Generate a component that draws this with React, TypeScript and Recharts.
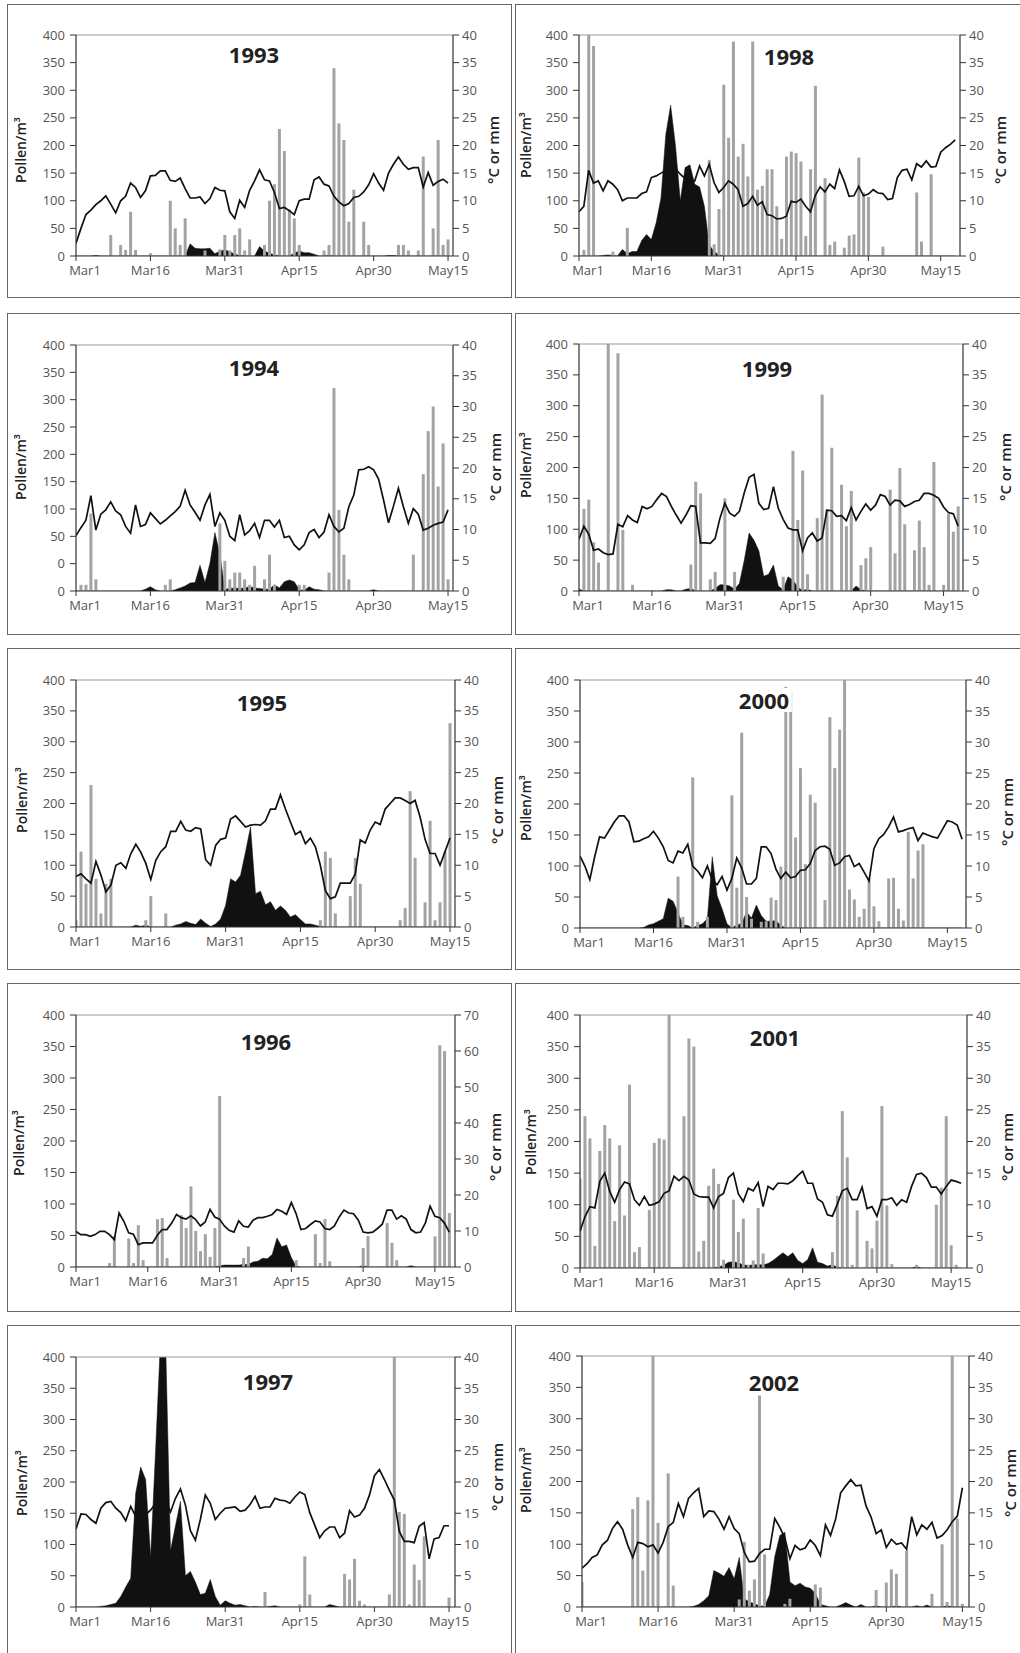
import React from 'react';
import { ComposedChart, Area, Bar, Line, XAxis, YAxis, ReferenceLine } from 'recharts';

// x axis: day index from March 1
const dayTicks = [0, 15, 30, 45, 60, 75];
const dayLabels = ['Mar1', 'Mar16', 'Mar31', 'Apr15', 'Apr30', 'May15'];

const pollenTicks = [0, 50, 100, 150, 200, 250, 300, 350, 400];
// the 1994 panel has a mislabelled left axis (ten labels)
const pollenTicks1994 = [0, 1, 2, 3, 4, 5, 6, 7, 8, 9].map((i) => (i * 400) / 9);
const pollenLabels1994 = ['0', '0', '50', '100', '150', '200', '250', '300', '350', '400'];
const tempTicks40 = [0, 5, 10, 15, 20, 25, 30, 35, 40];
const tempTicks70 = [0, 10, 20, 30, 40, 50, 60, 70];

// daily temperature (°C)
const temp1993 = [2.3, 5, 7.5, 8.3, 9.3, 10, 10.9, 9.4, 7.8, 10, 10.8, 13.2, 12.4, 10.6, 11.8, 14.5, 14.6, 15.4, 15.4, 13.7, 13.5, 14.1, 12.2, 10.5, 10.5, 10.7, 9.5, 10.4, 12.4, 11.9, 11.8, 8, 6.8, 10.1, 8.8, 11.9, 13.6, 15.6, 13.8, 13.6, 11.5, 8.6, 8.8, 8.2, 7.5, 10, 10.3, 10.3, 13.8, 14.3, 13, 12.7, 10.8, 9.8, 9.1, 9.5, 10.6, 10.8, 11.6, 12.9, 14.9, 13.2, 11.9, 15, 16.6, 17.9, 16.6, 15.7, 16, 16, 12.5, 15.1, 12.8, 13.5, 13.9, 13.2];
const temp1998 = [8, 9, 15.5, 13.2, 13.6, 11.8, 13.6, 13, 12, 10, 10.5, 10.5, 10.5, 11.3, 11.6, 14.2, 14.5, 15, 15.5, 16, 15.8, 14.8, 14, 13.5, 13.6, 16.3, 14.5, 16.6, 13.3, 11.5, 12.4, 13.6, 13, 12, 9, 9.5, 10.8, 9.2, 9.8, 7.5, 7.3, 6.7, 6.8, 7.2, 9.9, 9.7, 10.3, 9, 8, 11, 12.5, 11.6, 13, 12.2, 15.6, 13.5, 10.8, 10.9, 12.6, 10.9, 11.2, 12, 11.4, 11.3, 10.2, 10.4, 14.2, 15.5, 15.7, 13.8, 16.7, 16.1, 17.2, 16.1, 16.2, 18.8, 19.6, 20.2, 21];
const temp1994 = [9, 10.3, 11.5, 15.5, 9.9, 12.5, 13.2, 14.5, 13, 12.4, 10.5, 9.4, 14, 10.5, 10.8, 12.7, 11.8, 10.9, 11.5, 12.2, 12.9, 13.8, 16.4, 14, 12.8, 11.5, 14, 15.7, 10.5, 12.7, 11.5, 8.9, 8.2, 12.4, 9.1, 9.8, 11, 8.7, 11.5, 11.5, 10.4, 11.5, 8.7, 8.9, 7.5, 6.7, 7.5, 9.5, 10, 8.7, 9.6, 12.4, 10.5, 9.6, 10.2, 13.7, 15.6, 19.7, 19.8, 20.2, 19.7, 18.2, 14.8, 11.1, 13.8, 16.7, 13.7, 11, 13.4, 12.5, 9.9, 10.2, 10.7, 11, 11.2, 13.2];
const temp1999 = [8.4, 10.5, 9.2, 6.6, 6.8, 6.2, 5.9, 6, 10.8, 10.4, 12.2, 11.5, 11.1, 13.7, 13.3, 13.7, 14.8, 15.8, 15.3, 13.7, 12.3, 11, 12.3, 13.8, 13.7, 7.8, 7.8, 7.7, 8.5, 11.8, 14.2, 12.6, 12.1, 12.9, 15.9, 18.4, 18.9, 14.2, 13.2, 13.4, 16.9, 13.4, 11.6, 10.2, 9.9, 9.9, 6.5, 8.6, 9.4, 8.1, 8.6, 13.1, 13, 12.1, 12.2, 11.4, 13.5, 11.5, 12.9, 14.1, 13.1, 13.9, 15.6, 15.3, 13.9, 14.7, 14.6, 13.7, 14, 14.5, 14.7, 15.8, 15.8, 15.5, 15, 13.6, 12.7, 12.5, 10.5];
const temp1995 = [8.2, 8.6, 7.8, 7.1, 10.6, 8.4, 5.7, 6.8, 10, 10.4, 9.5, 11.9, 13.4, 12.1, 10.3, 7.7, 10.8, 12.2, 13, 15.5, 15.5, 17.1, 15.7, 15.5, 16.1, 15.9, 10.9, 10, 13.2, 14.2, 14.4, 17.5, 18, 17.1, 16.2, 16.5, 16.6, 16.5, 17.2, 19.1, 19.1, 21.4, 19.1, 17, 15, 15.5, 13.5, 14.4, 13, 10, 5.9, 4.6, 4.9, 7.1, 7.1, 7.1, 8.6, 14.1, 13.6, 15.7, 17, 16.6, 19.1, 20, 20.9, 20.9, 20.5, 20, 20.5, 17.8, 14.2, 11.9, 11.9, 10, 12.2, 14.4];
const temp2000 = [11.6, 10, 7.8, 11.5, 14.7, 14.5, 15.8, 17.1, 18.1, 18.1, 17.1, 13.9, 14, 14.4, 14.7, 15.6, 14.5, 13.1, 10.9, 10.5, 12.4, 12.1, 13.5, 10, 9.2, 8.1, 10, 7.7, 7, 8.3, 6.1, 8, 11.3, 9.7, 7.1, 7.1, 8, 13.1, 13.1, 12, 9.5, 8, 9, 8.1, 8.3, 9.3, 9.4, 10.4, 12.5, 13.1, 13.2, 12.7, 10.1, 10.5, 11.5, 11.7, 9.9, 10.4, 9, 7.6, 12.8, 14.4, 15.1, 16.3, 17.9, 15.5, 15.7, 16, 16.2, 14.1, 15.3, 15, 14.7, 14.5, 15.9, 17.3, 17.1, 16.6, 14.3];
const temp1996 = [9.9, 9, 9, 8.5, 9, 9.9, 9.9, 9, 7.6, 15, 12.7, 9.5, 9.1, 6.2, 6.7, 6.7, 6.7, 8.8, 10.4, 10.4, 12.2, 14.6, 13.7, 13.3, 14.2, 13.2, 11.4, 12.5, 16, 13.9, 13.3, 11.4, 10.2, 9.7, 12.8, 11.3, 11.1, 13, 13.7, 13.7, 14.1, 14.6, 16, 15.5, 14.6, 17.9, 14.8, 10.4, 10.7, 11.8, 12.8, 12.5, 10.7, 10.4, 11.4, 13.9, 15.8, 15, 14.8, 13, 9.7, 9.5, 9.7, 10.7, 11.9, 15.8, 15.8, 13.3, 14.2, 13.3, 10.4, 9.5, 9.7, 12.2, 16.9, 14.1, 13.7, 12.2, 9.7];
const temp2001 = [5.8, 8.1, 9.7, 9.5, 13.7, 15, 12.1, 10.4, 12.4, 13.6, 13.3, 10.8, 9.9, 11.3, 9.9, 10.1, 10.5, 11.8, 12.2, 14.5, 13.8, 14.5, 13.9, 11.7, 11.3, 11.2, 11.2, 9.5, 11.3, 11.8, 14.3, 15, 11.7, 10.5, 12.6, 12.2, 13.5, 9.7, 12.9, 12.4, 13.4, 13.4, 13.3, 13.8, 14.6, 15.3, 13.4, 13.4, 10.9, 10.4, 8.4, 8.2, 10.1, 12.2, 12.6, 10.8, 10.8, 12.8, 9.4, 9.7, 8.2, 10.8, 10.8, 11.1, 9.9, 10.8, 10.4, 12.9, 14.8, 15, 14.3, 12.8, 12.8, 11.7, 12.9, 13.9, 13.7, 13.4];
const temp1997 = [12.5, 14.9, 14.8, 14, 13.4, 15.8, 16.7, 16.9, 15.8, 15.1, 13.8, 16.1, 14.5, 15.5, 14.8, 15.5, 16.6, 17.5, 17.1, 15.2, 17.4, 18.9, 16.3, 12.2, 10.7, 14, 17.9, 16.6, 14, 15, 15.8, 15.9, 16, 15.3, 15.5, 16.4, 17.7, 15.8, 16, 16, 17.4, 17.1, 17, 16.6, 17.6, 18.4, 18, 15.1, 13.1, 11.1, 12.2, 12.8, 12.8, 11.1, 11.8, 15.4, 14.4, 14.7, 15.8, 17.9, 21, 22, 20.4, 18.7, 17.1, 12.1, 10.5, 10.5, 10.3, 12.9, 13.5, 7.7, 10.9, 11.1, 13, 13];
const temp2002 = [6.2, 6.9, 7.9, 8.3, 9.9, 10.6, 12.5, 13.6, 12.4, 9.9, 7.9, 10.3, 10.1, 9.6, 9.9, 8.6, 10.3, 12.8, 13.5, 16.5, 14.4, 17.3, 18.2, 18.9, 14.4, 15.3, 15.2, 14, 12.4, 14.4, 12.5, 11.7, 8.7, 7.2, 7.3, 8.5, 9.2, 9.2, 14.1, 12.7, 11, 7.7, 9.8, 9.1, 9.4, 10.7, 9.8, 8.2, 13.1, 11.4, 14, 18.2, 19.3, 20.3, 19.3, 19.4, 16.1, 14.3, 11.7, 12.3, 9.5, 10.8, 10, 10.2, 9.2, 14.4, 11.5, 13.1, 12.4, 13.5, 11, 11.4, 12.3, 13.6, 14.5, 19];

// rainfall (mm), [day, value]
const rain1993 = [[7, 3.8], [9, 2], [10, 1.1], [11, 8], [12, 1.1], [15, 0.5], [19, 10], [20, 5], [21, 2], [22, 6.8], [26, 1], [29, 1.2], [30, 3.8], [31, 1], [32, 3.8], [33, 5], [34, 1], [35, 3], [38, 2], [39, 10], [40, 13], [41, 23], [42, 19], [43, 8.4], [44, 6.8], [45, 2], [50, 1], [51, 2], [52, 34], [53, 24], [54, 21], [55, 6.2], [56, 12], [58, 6.2], [59, 2], [65, 2], [66, 2], [67, 1], [69, 1], [70, 18], [72, 5], [73, 21], [74, 2], [75, 3]];
const rain1998 = [[1, 1.1], [2, 41], [3, 38], [7, 0.8], [10, 5.1], [27, 17.4], [28, 2.1], [29, 8.5], [30, 31], [31, 21.4], [32, 38.8], [33, 18], [34, 20.3], [35, 14.4], [36, 38.8], [37, 12], [38, 12.7], [39, 15.7], [40, 15.7], [41, 9], [42, 3.1], [43, 18], [44, 18.9], [45, 18.6], [46, 17.1], [47, 3.6], [48, 15.7], [49, 30.8], [51, 14.1], [52, 2], [53, 2.6], [55, 1.5], [56, 3.7], [57, 3.9], [58, 17.8], [59, 11.5], [60, 10.7], [63, 1.7], [70, 11.5], [71, 2.6], [73, 14.8]];
const rain1994 = [[1, 1], [2, 1], [3, 12.6], [4, 1.9], [18, 1], [19, 1.9], [29, 11], [30, 4.9], [31, 1.9], [32, 3], [33, 3], [34, 1.9], [35, 1], [36, 4.1], [38, 1.9], [39, 5.9], [40, 1], [45, 1], [46, 1], [51, 3], [52, 33], [53, 13.2], [54, 5.9], [55, 1.9], [68, 5.9], [70, 19], [71, 26], [72, 30], [73, 17], [74, 24], [75, 1.9]];
const rain1999 = [[1, 13.3], [2, 14.8], [3, 7.9], [4, 4.6], [6, 41], [8, 38.5], [9, 9.9], [11, 1], [23, 4.3], [24, 17.7], [25, 15.8], [27, 1.9], [28, 3.1], [30, 15], [32, 3.1], [42, 2.3], [44, 22.7], [45, 11.5], [46, 19.5], [47, 2.7], [49, 11.8], [50, 31.8], [51, 13.2], [52, 23.2], [54, 17.2], [55, 10.5], [56, 16.2], [58, 4.2], [59, 5.3], [60, 7.1], [64, 16.4], [65, 6.1], [66, 19.9], [67, 10.8], [69, 6.6], [70, 11.4], [71, 7.1], [72, 1], [73, 20.9], [75, 1], [76, 12.5], [77, 9.6], [78, 13.7]];
const rain1995 = [[0, 1.1], [1, 12.2], [2, 7], [3, 23], [4, 7.8], [5, 2.2], [6, 7], [7, 7.8], [14, 1.1], [15, 5], [18, 2.2], [49, 1.1], [50, 12.2], [51, 11.2], [52, 2.2], [55, 5], [56, 11.2], [57, 7], [65, 1.1], [66, 3.1], [67, 22], [68, 11.2], [70, 4], [71, 17.2], [72, 1.1], [73, 4], [74, 12.2], [75, 33]];
const rain2000 = [[20, 8.3], [21, 1.8], [23, 24.3], [24, 1], [26, 1.8], [31, 21.4], [32, 6.5], [33, 31.5], [34, 5], [35, 1.5], [37, 1], [38, 1.1], [39, 4.9], [40, 4.5], [41, 9.9], [42, 38.9], [43, 38.2], [44, 14.6], [45, 25.8], [46, 10.3], [47, 21.5], [48, 20.2], [50, 4.5], [51, 34], [52, 25.8], [53, 32], [54, 40], [55, 6.2], [56, 4.6], [57, 1.8], [58, 3.1], [59, 8], [60, 3.5], [61, 1.1], [63, 8], [64, 8.1], [65, 3.1], [66, 1.2], [67, 15.5], [68, 8], [69, 12.5], [70, 13.5]];
const rain1996 = [[7, 1.1], [8, 8.5], [11, 7.9], [12, 1.1], [13, 11.6], [14, 1.9], [17, 13.3], [18, 13.6], [19, 2.5], [22, 14.4], [23, 10.8], [24, 22.4], [25, 10], [26, 4.4], [27, 9.1], [28, 2.8], [29, 10.8], [30, 47.5], [35, 2.5], [36, 5.7], [46, 1.9], [50, 9.1], [51, 1.1], [52, 13.3], [53, 1.6], [60, 5.3], [61, 8.6], [65, 12.2], [66, 6.7], [67, 1.9], [75, 8.5], [76, 61.6], [77, 60], [78, 15]];
const rain2001 = [[0, 14.1], [1, 24], [2, 20.5], [3, 3.5], [4, 18.5], [5, 22.6], [6, 20.5], [7, 7.4], [8, 19.4], [9, 8.3], [10, 29], [11, 2.5], [12, 3.3], [14, 9.2], [15, 19.8], [16, 20.5], [17, 20.3], [18, 40.8], [21, 24], [22, 36.3], [23, 35], [24, 2.6], [25, 4.3], [26, 13], [27, 15.7], [28, 13.3], [29, 1.3], [31, 10.8], [32, 5.7], [33, 7.8], [34, 0.5], [35, 1.2], [36, 9.5], [37, 2.3], [51, 2.5], [52, 11.4], [53, 24.8], [54, 17.5], [55, 0.5], [56, 9.1], [58, 4.3], [59, 3.1], [60, 7.5], [61, 25.6], [62, 9.9], [63, 0.6], [68, 0.5], [72, 10], [73, 12.7], [74, 24], [75, 3.6], [76, 0.5]];
const rain1997 = [[38, 2.4], [45, 0.4], [46, 8.1], [47, 2], [54, 5.3], [55, 4.4], [56, 7.7], [57, 1], [58, 0.4], [63, 2], [64, 42], [65, 15.2], [66, 14.9], [67, 0.4], [68, 6.8], [69, 4.3], [70, 11.3], [75, 1.5]];
const rain2002 = [[0, 4], [10, 15.6], [11, 17.5], [12, 5.8], [13, 17], [14, 40], [15, 13.4], [17, 21.3], [18, 3.4], [31, 1.2], [32, 10.4], [33, 2.6], [34, 4.4], [35, 33.7], [36, 8.4], [40, 0.5], [41, 1.3], [46, 3.6], [47, 3.1], [58, 2.7], [60, 3.9], [61, 6], [62, 5.3], [64, 9], [69, 2.1], [71, 10], [72, 0.8], [73, 40], [74, 14.1], [75, 0.5]];

// pollen (grains/m³), [day, value]
const pollen1993 = [[4, 1], [23, 22], [24, 14], [25, 13], [26, 13], [27, 14], [28, 4], [29, 9], [30, 11], [31, 8], [32, 3], [33, 1], [37, 17], [38, 9], [39, 5], [40, 2], [44, 5], [45, 9], [46, 6], [47, 6], [48, 3], [51, 1], [63, 1], [64, 1]];
const pollen1998 = [[5, 1], [6, 2], [7, 1], [9, 12], [10, 4], [11, 8], [12, 8], [13, 28], [14, 39], [15, 30], [16, 60], [17, 105], [18, 220], [19, 273], [20, 200], [21, 100], [22, 160], [23, 165], [24, 130], [25, 125], [26, 90], [27, 20], [28, 8], [29, 2]];
const pollen1994 = [[14, 3], [15, 7], [16, 2], [20, 2], [21, 5], [22, 8], [23, 13], [24, 14], [25, 42], [26, 14], [27, 45], [28, 95], [29, 60], [30, 3], [31, 4], [32, 5], [33, 4], [34, 5], [35, 7], [36, 5], [37, 4], [38, 3], [39, 3], [40, 10], [41, 5], [42, 15], [43, 18], [44, 15], [45, 2], [46, 1], [47, 7], [48, 3], [49, 2], [60, 2]];
const pollen1999 = [[0, 3], [18, 2], [19, 2], [22, 3], [23, 4], [28, 4], [29, 10], [30, 10], [31, 8], [32, 3], [33, 12], [34, 50], [35, 94], [36, 82], [37, 65], [38, 24], [39, 27], [40, 42], [41, 8], [42, 2], [43, 23], [44, 18], [45, 6], [46, 1], [47, 3], [57, 8], [58, 2]];
const pollen1995 = [[12, 3], [13, 1], [14, 3], [20, 3], [21, 5], [22, 9], [23, 6], [24, 4], [25, 13], [26, 6], [27, 1], [28, 5], [29, 13], [30, 35], [31, 78], [32, 73], [33, 84], [34, 122], [35, 162], [36, 54], [37, 58], [38, 36], [39, 41], [40, 27], [41, 34], [42, 27], [43, 16], [44, 20], [45, 12], [46, 5], [47, 5], [48, 3], [49, 1]];
const pollen2000 = [[13, 1], [14, 5], [15, 7], [16, 11], [17, 15], [18, 48], [19, 43], [20, 25], [21, 5], [22, 4], [24, 4], [25, 7], [26, 15], [27, 115], [28, 52], [29, 31], [30, 7], [32, 5], [33, 7], [34, 26], [35, 16], [36, 37], [37, 20], [38, 11], [39, 11], [40, 12], [41, 4]];
const pollen1996 = [[30, 2], [31, 3], [32, 3], [33, 3], [34, 3], [35, 4], [36, 4], [37, 8], [38, 9], [39, 14], [40, 13], [41, 20], [42, 46], [43, 32], [44, 35], [45, 15], [46, 1], [60, 2], [70, 2]];
const pollen2001 = [[28, 2], [29, 4], [30, 9], [31, 10], [32, 8], [33, 5], [34, 4], [35, 5], [36, 5], [37, 5], [38, 7], [39, 12], [40, 18], [41, 24], [42, 18], [43, 24], [44, 12], [45, 7], [46, 13], [47, 32], [48, 9], [49, 7], [50, 3], [51, 5], [52, 1], [68, 2]];
const pollen1997 = [[5, 1], [6, 2], [7, 4], [8, 6], [9, 17], [10, 32], [11, 46], [12, 182], [13, 224], [14, 204], [15, 80], [16, 250], [17, 430], [18, 430], [19, 90], [20, 130], [21, 169], [22, 50], [23, 57], [24, 40], [25, 20], [26, 22], [27, 44], [28, 17], [29, 3], [30, 10], [31, 6], [32, 3], [33, 4], [34, 2], [36, 1], [39, 1], [40, 2], [51, 4], [52, 2]];
const pollen2002 = [[22, 1], [23, 4], [24, 10], [25, 18], [26, 58], [27, 54], [28, 49], [29, 63], [30, 45], [31, 79], [32, 13], [33, 8], [34, 5], [35, 2], [36, 1], [37, 20], [38, 80], [39, 114], [40, 119], [41, 40], [42, 34], [43, 38], [44, 32], [45, 30], [46, 22], [47, 4], [48, 2], [51, 3], [52, 7], [53, 3], [55, 4], [58, 2], [62, 2], [66, 2], [68, 3], [72, 2]];

const buildRows = (temp: number[], pollen: number[][], rain: number[][]) => {
  const rows: any[] = temp.map((t, d) => ({ d, t, p: 0, r: null }));
  pollen.forEach(([d, v]) => { if (rows[d]) rows[d].p = v; });
  rain.forEach(([d, v]) => { if (rows[d]) rows[d].r = v; });
  return rows;
};

// layout: plot = [left, top, right, bottom] in page px
const panels = [
  { year: '1993', temp: temp1993, pollen: pollen1993, rain: rain1993, xMax: 76, tMax: 40, plot: [76, 35, 453, 256], title: [254, 54], yl: [20, 150], yr: [493, 150] },
  { year: '1998', temp: temp1998, pollen: pollen1998, rain: rain1998, xMax: 79, tMax: 40, plot: [579, 35, 960, 256], title: [789, 56], yl: [525, 145], yr: [1000, 150] },
  { year: '1994', temp: temp1994, pollen: pollen1994, rain: rain1994, xMax: 76, tMax: 40, plot: [76, 345, 453, 591], title: [254, 367], yl: [20, 467], yr: [495, 467], oddAxis: true },
  { year: '1999', temp: temp1999, pollen: pollen1999, rain: rain1999, xMax: 79, tMax: 40, plot: [579, 344, 963, 591], title: [767, 368], yl: [525, 465], yr: [1005, 467] },
  { year: '1995', temp: temp1995, pollen: pollen1995, rain: rain1995, xMax: 76, tMax: 40, plot: [76, 680, 455, 927], title: [262, 702], yl: [21, 800], yr: [497, 810] },
  { year: '2000', temp: temp2000, pollen: pollen2000, rain: rain2000, xMax: 78.8, tMax: 40, plot: [580, 680, 966, 928], title: [764, 700], yl: [525, 808], yr: [1007, 812] },
  { year: '1996', temp: temp1996, pollen: pollen1996, rain: rain1996, xMax: 79.2, tMax: 70, plot: [76, 1015, 455, 1267], title: [266, 1041], yl: [18, 1143], yr: [495, 1147] },
  { year: '2001', temp: temp2001, pollen: pollen2001, rain: rain2001, xMax: 78.2, tMax: 40, plot: [580, 1015, 967, 1268], title: [775, 1037], yl: [530, 1142], yr: [1007, 1147] },
  { year: '1997', temp: temp1997, pollen: pollen1997, rain: rain1997, xMax: 76.2, tMax: 40, plot: [76, 1357, 455, 1607], title: [268, 1381], yl: [21, 1483], yr: [497, 1477] },
  { year: '2002', temp: temp2002, pollen: pollen2002, rain: rain2002, xMax: 76.3, tMax: 40, plot: [582, 1356, 969, 1607], title: [774, 1382], yl: [525, 1480], yr: [1010, 1483] },
];

const frameRows = [[4, 294], [313, 322], [648, 322], [983, 329], [1325, 340]];

const FONT = '"Open Sans", "Liberation Sans", sans-serif';
const AXIS = '#333';
const TICK_TEXT = { fill: '#555', fontSize: 13, fontFamily: FONT };

const DayTick = (props: any) => {
  const { x, y, payload } = props;
  const i = dayTicks.indexOf(payload.value);
  return (
    <text x={x + (i === 0 ? 9 : 0)} y={y} dy={12} textAnchor="middle" fill="#555" fontSize={13} fontFamily={FONT}>
      {dayLabels[i]}
    </text>
  );
};

const Panel = ({ cfg }: { cfg: any }) => {
  const [L, T, R, B] = cfg.plot;
  const rows = buildRows(cfg.temp, cfg.pollen, cfg.rain);
  const leftTicks = cfg.oddAxis ? pollenTicks1994 : pollenTicks;
  const rightTicks = cfg.tMax === 70 ? tempTicks70 : tempTicks40;
  return (
    <>
      <div style={{ position: 'absolute', left: L - 60, top: T - 10 }}>
        <ComposedChart width={R - L + 120} height={B - T + 40} data={rows} margin={{ top: 10, right: 20, bottom: 0, left: 20 }}>
          <XAxis
            dataKey="d"
            type="number"
            domain={[0, cfg.xMax]}
            allowDataOverflow
            ticks={dayTicks}
            interval={0}
            height={30}
            tickSize={5}
            tickMargin={2}
            axisLine={{ stroke: AXIS, strokeWidth: 1.2 }}
            tickLine={{ stroke: AXIS }}
            tick={<DayTick />}
          />
          <YAxis
            yAxisId="p"
            orientation="left"
            domain={[0, 400]}
            allowDataOverflow
            ticks={leftTicks}
            interval={0}
            width={40}
            tickSize={6}
            tickMargin={5}
            axisLine={{ stroke: AXIS, strokeWidth: 1.2 }}
            tickLine={{ stroke: AXIS }}
            tick={TICK_TEXT}
            tickFormatter={(v: number, i: number) => (cfg.oddAxis ? pollenLabels1994[i] : String(v))}
          />
          <YAxis
            yAxisId="t"
            orientation="right"
            domain={[0, cfg.tMax]}
            allowDataOverflow
            ticks={rightTicks}
            interval={0}
            width={40}
            tickSize={6}
            tickMargin={3}
            axisLine={{ stroke: AXIS, strokeWidth: 1.2 }}
            tickLine={{ stroke: AXIS }}
            tick={TICK_TEXT}
          />
          <ReferenceLine yAxisId="p" y={400} stroke="#999" strokeWidth={1} />
          <Bar yAxisId="t" dataKey="r" fill="#a3a3a3" barSize={3} isAnimationActive={false} />
          <Area yAxisId="p" type="linear" dataKey="p" fill="#111" fillOpacity={1} stroke="#111" strokeWidth={0.5} isAnimationActive={false} />
          <Line yAxisId="t" type="linear" dataKey="t" stroke="#111" strokeWidth={1.7} dot={false} isAnimationActive={false} />
        </ComposedChart>
      </div>
      <div style={{ position: 'absolute', left: cfg.title[0], top: cfg.title[1], transform: 'translate(-50%, -50%)', background: '#fff', padding: '1px 3px', fontFamily: FONT, fontWeight: 700, fontSize: 22, lineHeight: 1, color: '#222' }}>
        {cfg.year}
      </div>
      <div style={{ position: 'absolute', left: cfg.yl[0], top: cfg.yl[1], transform: 'translate(-50%, -50%) rotate(-90deg)', whiteSpace: 'nowrap', fontFamily: FONT, fontSize: 14, fontWeight: 600, color: '#222' }}>
        Pollen/m³
      </div>
      <div style={{ position: 'absolute', left: cfg.yr[0], top: cfg.yr[1], transform: 'translate(-50%, -50%) rotate(-90deg)', whiteSpace: 'nowrap', fontFamily: FONT, fontSize: 15, fontWeight: 600, color: '#222' }}>
        °C or mm
      </div>
    </>
  );
};

export default function App() {
  return (
    <div style={{ position: 'absolute', left: 0, top: 0, width: 1020, height: 1653, background: '#fff', overflow: 'hidden' }}>
      {frameRows.map(([top, h], i) => (
        <React.Fragment key={i}>
          <div style={{ position: 'absolute', left: 7, top, width: 505, height: h, border: '1px solid #666', boxSizing: 'border-box' }} />
          <div style={{ position: 'absolute', left: 515, top, width: 510, height: h, border: '1px solid #666', boxSizing: 'border-box' }} />
        </React.Fragment>
      ))}
      {panels.map((cfg) => (
        <Panel key={cfg.year} cfg={cfg} />
      ))}
    </div>
  );
}
